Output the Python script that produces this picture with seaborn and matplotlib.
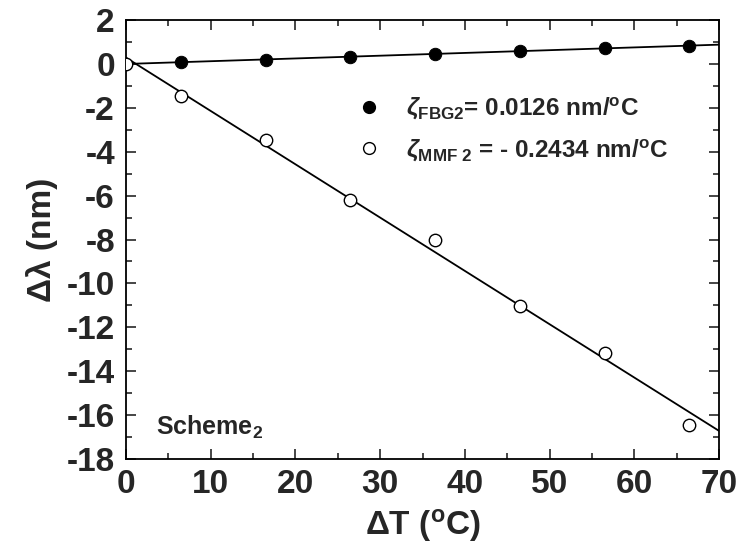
import numpy as np
import pandas as pd
import matplotlib
matplotlib.use("Agg")
import matplotlib.pyplot as plt
from matplotlib.lines import Line2D
import seaborn as sns

# ---- data ----
dT_fbg = [6.5, 16.5, 26.5, 36.5, 46.5, 56.5, 66.5]
dl_fbg = [0.08, 0.20, 0.33, 0.46, 0.58, 0.71, 0.83]
dT_mmf = [0.0, 6.5, 16.5, 26.5, 36.5, 46.5, 56.5, 66.5]
dl_mmf = [0.0, -1.47, -3.48, -6.20, -8.02, -11.03, -13.15, -16.43]
x_ticks = [0, 10, 20, 30, 40, 50, 60, 70]
y_ticks = [2, 0, -2, -4, -6, -8, -10, -12, -14, -16, -18]
label_fbg = r'$\zeta_{\mathbf{FBG2}}$= 0.0126 nm/$^{\mathbf{o}}$C'
label_mmf = r'$\zeta_{\mathbf{MMF\ 2}}$ = - 0.2434 nm/$^{\mathbf{o}}$C'

df_fbg = pd.DataFrame({"dT": dT_fbg, "dl": dl_fbg})
df_mmf = pd.DataFrame({"dT": dT_mmf, "dl": dl_mmf})

sns.set_style("ticks")
plt.rcParams["font.family"] = ["Liberation Sans", "DejaVu Sans"]
plt.rcParams["font.weight"] = "bold"
plt.rcParams["axes.unicode_minus"] = False
plt.rcParams["mathtext.fontset"] = "custom"
plt.rcParams["mathtext.rm"] = "Liberation Sans:bold"
plt.rcParams["mathtext.bf"] = "Liberation Sans:bold"
plt.rcParams["mathtext.it"] = "Liberation Sans:italic"
plt.rcParams["mathtext.sf"] = "Liberation Sans:bold"

fig = plt.figure(figsize=(7.39, 5.55), dpi=100)
ax = fig.add_axes([126/739, 1-459/555, (719-126)/739, (459-20)/555])
ax.set_xlim(0, 70)
ax.set_ylim(-18, 2)

sns.regplot(data=df_fbg, x="dT", y="dl", ax=ax, scatter=False, ci=None,
            truncate=False, line_kws=dict(color="black", lw=1.3))
sns.regplot(data=df_mmf, x="dT", y="dl", ax=ax, scatter=False, ci=None,
            truncate=False, line_kws=dict(color="black", lw=1.3))
sns.scatterplot(data=df_fbg, x="dT", y="dl", ax=ax, color="black",
                edgecolor="black", s=80, marker="o", zorder=5, clip_on=False)
sns.scatterplot(data=df_mmf, x="dT", y="dl", ax=ax, facecolor="white",
                edgecolor="black", linewidth=1.0, s=80, marker="o", zorder=5)

ax.set_xlim(0, 70)
ax.set_ylim(-18, 2)
ax.set_xticks(x_ticks)
ax.set_yticks(y_ticks)
ax.set_xticks(np.arange(5, 70, 10), minor=True)
ax.set_yticks(np.arange(-17, 2, 2), minor=True)
ax.tick_params(axis="both", which="both", direction="in", top=True, right=True,
               width=1.2, labelsize=24)
ax.tick_params(axis="x", which="major", pad=7)
ax.tick_params(axis="y", which="major", pad=8)
ax.tick_params(which="major", length=7)
ax.tick_params(which="minor", length=4.5)
for lab in ax.get_xticklabels() + ax.get_yticklabels():
    lab.set_fontweight("bold")
for sp in ax.spines.values():
    sp.set_linewidth(1.3)
    sp.set_color("black")

ax.set_xlabel("ΔT ($^{\\mathbf{o}}$C)", fontsize=24, fontweight="bold", labelpad=5)
ax.set_ylabel("Δλ (nm)", fontsize=24, fontweight="bold", labelpad=6)

handles = [Line2D([], [], marker="o", ls="none", color="black", markersize=8.5),
           Line2D([], [], marker="o", ls="none", markerfacecolor="white",
                  markeredgecolor="black", markersize=8.5)]
leg = ax.legend(handles, [label_fbg, label_mmf], loc="upper left",
                bbox_to_anchor=(0.39, 0.828), frameon=False, fontsize=17.5,
                handlelength=1.0, handletextpad=1.0, labelspacing=0.65,
                borderpad=0, borderaxespad=0)

ax.text(0.05, 0.055, r"Scheme$_{\mathbf{2}}$", transform=ax.transAxes,
        fontsize=18, fontweight="bold", ha="left", va="baseline")

fig.savefig("out.png", dpi=100)
